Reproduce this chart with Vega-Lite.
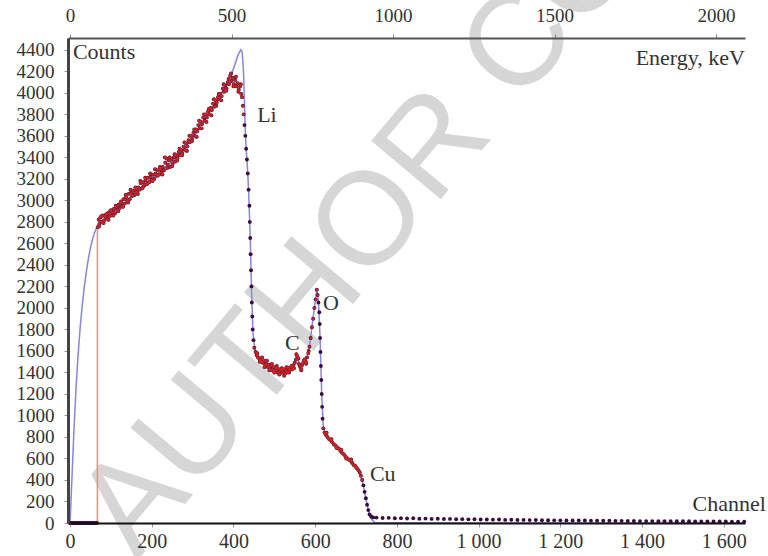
{
  "$schema": "https://vega.github.io/schema/vega-lite/v6.json",
  "width": 677,
  "height": 485,
  "autosize": {"type": "none"},
  "padding": {"left": 68, "top": 38, "right": 23, "bottom": 33},
  "background": "white",
  "config": {"view": {"stroke": null}, "font": "Liberation Serif"},
  "datasets": {
    "fit": [
      {"ch":0,"counts":0},{"ch":5,"counts":450},{"ch":10,"counts":900},{"ch":15,"counts":1280},{"ch":20,"counts":1580},{"ch":25,"counts":1830},{"ch":30,"counts":2030},{"ch":35,"counts":2200},{"ch":40,"counts":2340},{"ch":45,"counts":2460},{"ch":50,"counts":2560},{"ch":55,"counts":2640},{"ch":60,"counts":2700},{"ch":65,"counts":2745},{"ch":70,"counts":2775},{"ch":80,"counts":2820},{"ch":100,"counts":2880},{"ch":120,"counts":2940},{"ch":140,"counts":3000},{"ch":160,"counts":3080},{"ch":180,"counts":3145},{"ch":200,"counts":3205},{"ch":220,"counts":3265},{"ch":240,"counts":3330},{"ch":260,"counts":3395},{"ch":280,"counts":3480},{"ch":300,"counts":3585},{"ch":320,"counts":3695},{"ch":340,"counts":3810},{"ch":360,"counts":3935},{"ch":380,"counts":4060},{"ch":395,"counts":4170},{"ch":405,"counts":4280},{"ch":412,"counts":4360},{"ch":418,"counts":4400},{"ch":421,"counts":4380},{"ch":423,"counts":4300},{"ch":425,"counts":4150},{"ch":427,"counts":3900},{"ch":429,"counts":3640},{"ch":431,"counts":3480},{"ch":433,"counts":3380},{"ch":437,"counts":3100},{"ch":441,"counts":2650},{"ch":445,"counts":2050},{"ch":448,"counts":1760},{"ch":452,"counts":1620},{"ch":460,"counts":1545},{"ch":480,"counts":1480},{"ch":500,"counts":1435},{"ch":520,"counts":1410},{"ch":540,"counts":1430},{"ch":550,"counts":1490},{"ch":556,"counts":1540},{"ch":562,"counts":1470},{"ch":570,"counts":1480},{"ch":580,"counts":1540},{"ch":586,"counts":1640},{"ch":592,"counts":1820},{"ch":598,"counts":2000},{"ch":604,"counts":2175},{"ch":608,"counts":2060},{"ch":612,"counts":1720},{"ch":616,"counts":1200},{"ch":620,"counts":880},{"ch":630,"counts":800},{"ch":660,"counts":680},{"ch":690,"counts":560},{"ch":710,"counts":460},{"ch":718,"counts":350},{"ch":724,"counts":230},{"ch":730,"counts":120},{"ch":737,"counts":40},{"ch":745,"counts":5},{"ch":760,"counts":0},{"ch":1652,"counts":0}
    ],
    "measured": [
      {"ch":0,"counts":0},{"ch":3,"counts":0},{"ch":6,"counts":0},{"ch":9,"counts":0},{"ch":12,"counts":0},{"ch":15,"counts":0},{"ch":18,"counts":0},{"ch":21,"counts":0},{"ch":24,"counts":0},{"ch":27,"counts":0},{"ch":30,"counts":0},{"ch":33,"counts":0},{"ch":36,"counts":0},{"ch":39,"counts":0},{"ch":42,"counts":0},{"ch":45,"counts":0},{"ch":48,"counts":0},{"ch":51,"counts":0},{"ch":54,"counts":0},{"ch":57,"counts":0},{"ch":60,"counts":0},{"ch":63,"counts":0},{"ch":66,"counts":0},
      {"ch":68,"counts":2750},{"ch":70,"counts":2820},{"ch":72,"counts":2780},{"ch":74,"counts":2840},{"ch":77,"counts":2800},{"ch":80,"counts":2860},{"ch":83,"counts":2810},{"ch":86,"counts":2850},{"ch":89,"counts":2830},{"ch":92,"counts":2880},{"ch":95,"counts":2850},{"ch":98,"counts":2900},{"ch":101,"counts":2860},{"ch":104,"counts":2890},{"ch":107,"counts":2920},{"ch":110,"counts":2880},{"ch":113,"counts":2940},{"ch":116,"counts":2910},{"ch":119,"counts":2960},{"ch":122,"counts":2930},{"ch":125,"counts":2990},{"ch":128,"counts":2950},{"ch":131,"counts":3010},{"ch":134,"counts":2970},{"ch":137,"counts":3030},{"ch":140,"counts":3000},{"ch":143,"counts":3060},{"ch":146,"counts":3010},{"ch":149,"counts":3070},{"ch":152,"counts":3040},{"ch":155,"counts":3090},{"ch":158,"counts":3050},{"ch":161,"counts":3110},{"ch":164,"counts":3080},{"ch":167,"counts":3120},{"ch":170,"counts":3100},{"ch":173,"counts":3160},{"ch":176,"counts":3110},{"ch":179,"counts":3170},{"ch":182,"counts":3140},{"ch":185,"counts":3190},{"ch":188,"counts":3150},{"ch":191,"counts":3210},{"ch":194,"counts":3170},{"ch":197,"counts":3220},{"ch":200,"counts":3190},{"ch":203,"counts":3240},{"ch":206,"counts":3200},{"ch":209,"counts":3250},{"ch":212,"counts":3230},{"ch":215,"counts":3280},{"ch":218,"counts":3240},{"ch":221,"counts":3290},{"ch":224,"counts":3260},{"ch":227,"counts":3310},{"ch":230,"counts":3280},{"ch":233,"counts":3350},{"ch":236,"counts":3390},{"ch":239,"counts":3330},{"ch":242,"counts":3370},{"ch":245,"counts":3310},{"ch":248,"counts":3380},{"ch":251,"counts":3340},{"ch":254,"counts":3400},{"ch":257,"counts":3360},{"ch":260,"counts":3420},{"ch":263,"counts":3390},{"ch":266,"counts":3450},{"ch":269,"counts":3420},{"ch":272,"counts":3470},{"ch":275,"counts":3440},{"ch":278,"counts":3500},{"ch":281,"counts":3470},{"ch":284,"counts":3530},{"ch":287,"counts":3500},{"ch":290,"counts":3560},{"ch":293,"counts":3540},{"ch":296,"counts":3600},{"ch":299,"counts":3570},{"ch":302,"counts":3630},{"ch":305,"counts":3600},{"ch":308,"counts":3660},{"ch":311,"counts":3640},{"ch":314,"counts":3700},{"ch":317,"counts":3670},{"ch":320,"counts":3730},{"ch":323,"counts":3710},{"ch":326,"counts":3770},{"ch":329,"counts":3740},{"ch":332,"counts":3800},{"ch":335,"counts":3770},{"ch":338,"counts":3830},{"ch":341,"counts":3800},{"ch":344,"counts":3860},{"ch":347,"counts":3840},{"ch":350,"counts":3900},{"ch":353,"counts":3870},{"ch":356,"counts":3930},{"ch":359,"counts":3910},{"ch":362,"counts":3960},{"ch":365,"counts":3940},{"ch":368,"counts":3990},{"ch":371,"counts":3970},{"ch":374,"counts":4040},{"ch":377,"counts":4010},{"ch":380,"counts":4070},{"ch":383,"counts":4040},{"ch":386,"counts":4100},{"ch":389,"counts":4080},{"ch":392,"counts":4160},{"ch":395,"counts":4110},{"ch":398,"counts":4140},{"ch":401,"counts":4080},{"ch":404,"counts":4120},{"ch":407,"counts":4060},{"ch":410,"counts":4090},{"ch":413,"counts":4030},{"ch":416,"counts":4060},{"ch":419,"counts":3990},{"ch":421,"counts":3960},{"ch":423,"counts":3880},{"ch":425,"counts":3800},{"ch":427,"counts":3700},{"ch":429,"counts":3600},{"ch":431,"counts":3480},{"ch":433,"counts":3380},{"ch":435,"counts":3250},{"ch":437,"counts":3100},{"ch":439,"counts":2950},{"ch":440,"counts":2800},{"ch":441,"counts":2650},{"ch":442,"counts":2500},{"ch":443,"counts":2350},{"ch":444,"counts":2200},{"ch":445,"counts":2050},{"ch":446,"counts":1920},{"ch":447,"counts":1800},{"ch":449,"counts":1700},{"ch":451,"counts":1630},{"ch":454,"counts":1590},{"ch":457,"counts":1560},{"ch":460,"counts":1540},{"ch":463,"counts":1530},{"ch":466,"counts":1510},{"ch":469,"counts":1500},{"ch":472,"counts":1490},{"ch":475,"counts":1510},{"ch":478,"counts":1470},{"ch":481,"counts":1480},{"ch":484,"counts":1450},{"ch":487,"counts":1470},{"ch":490,"counts":1430},{"ch":493,"counts":1460},{"ch":496,"counts":1420},{"ch":499,"counts":1450},{"ch":502,"counts":1410},{"ch":505,"counts":1440},{"ch":508,"counts":1400},{"ch":511,"counts":1430},{"ch":514,"counts":1390},{"ch":517,"counts":1420},{"ch":520,"counts":1400},{"ch":523,"counts":1430},{"ch":526,"counts":1390},{"ch":529,"counts":1420},{"ch":532,"counts":1400},{"ch":535,"counts":1440},{"ch":538,"counts":1420},{"ch":541,"counts":1450},{"ch":544,"counts":1430},{"ch":547,"counts":1470},{"ch":550,"counts":1490},{"ch":553,"counts":1520},{"ch":556,"counts":1550},{"ch":559,"counts":1530},{"ch":562,"counts":1460},{"ch":565,"counts":1440},{"ch":568,"counts":1470},{"ch":571,"counts":1490},{"ch":574,"counts":1520},{"ch":577,"counts":1500},{"ch":580,"counts":1540},{"ch":583,"counts":1580},{"ch":586,"counts":1640},{"ch":589,"counts":1720},{"ch":592,"counts":1820},{"ch":595,"counts":1900},{"ch":598,"counts":2000},{"ch":601,"counts":2080},{"ch":604,"counts":2170},{"ch":606,"counts":2120},{"ch":608,"counts":2050},{"ch":610,"counts":1960},{"ch":611,"counts":1850},{"ch":612,"counts":1720},{"ch":613,"counts":1590},{"ch":614,"counts":1460},{"ch":615,"counts":1330},{"ch":616,"counts":1200},{"ch":617,"counts":1080},{"ch":618,"counts":970},{"ch":620,"counts":880},{"ch":623,"counts":840},{"ch":626,"counts":820},{"ch":630,"counts":800},{"ch":634,"counts":780},{"ch":638,"counts":770},{"ch":642,"counts":750},{"ch":646,"counts":730},{"ch":650,"counts":720},{"ch":654,"counts":700},{"ch":658,"counts":690},{"ch":662,"counts":670},{"ch":666,"counts":650},{"ch":670,"counts":640},{"ch":674,"counts":620},{"ch":678,"counts":600},{"ch":682,"counts":590},{"ch":686,"counts":580},{"ch":690,"counts":560},{"ch":694,"counts":540},{"ch":698,"counts":530},{"ch":702,"counts":510},{"ch":706,"counts":490},{"ch":709,"counts":470},{"ch":712,"counts":440},{"ch":715,"counts":400},{"ch":718,"counts":350},{"ch":721,"counts":290},{"ch":724,"counts":230},{"ch":727,"counts":170},{"ch":730,"counts":120},{"ch":733,"counts":80},{"ch":737,"counts":60},{"ch":742,"counts":52},
      {"ch":71,"counts":2760},{"ch":76,"counts":2850},{"ch":82,"counts":2790},{"ch":88,"counts":2870},{"ch":94,"counts":2820},{"ch":100,"counts":2910},{"ch":106,"counts":2860},{"ch":112,"counts":2950},{"ch":118,"counts":2900},{"ch":124,"counts":2980},{"ch":130,"counts":2940},{"ch":136,"counts":3050},{"ch":142,"counts":2980},{"ch":148,"counts":3100},{"ch":154,"counts":3050},{"ch":160,"counts":3120},{"ch":166,"counts":3060},{"ch":172,"counts":3180},{"ch":178,"counts":3120},{"ch":184,"counts":3210},{"ch":190,"counts":3160},{"ch":196,"counts":3250},{"ch":202,"counts":3180},{"ch":208,"counts":3290},{"ch":214,"counts":3230},{"ch":220,"counts":3310},{"ch":226,"counts":3240},{"ch":232,"counts":3400},{"ch":238,"counts":3300},{"ch":244,"counts":3400},{"ch":250,"counts":3320},{"ch":256,"counts":3430},{"ch":262,"counts":3370},{"ch":268,"counts":3480},{"ch":274,"counts":3420},{"ch":280,"counts":3540},{"ch":286,"counts":3460},{"ch":292,"counts":3600},{"ch":298,"counts":3550},{"ch":304,"counts":3660},{"ch":310,"counts":3590},{"ch":316,"counts":3740},{"ch":322,"counts":3670},{"ch":328,"counts":3800},{"ch":334,"counts":3730},{"ch":340,"counts":3850},{"ch":346,"counts":3790},{"ch":352,"counts":3940},{"ch":358,"counts":3880},{"ch":364,"counts":3990},{"ch":370,"counts":3930},{"ch":376,"counts":4080},{"ch":382,"counts":4020},{"ch":388,"counts":4130},{"ch":394,"counts":4180},{"ch":400,"counts":4060},{"ch":406,"counts":4150},{"ch":412,"counts":4010},{"ch":418,"counts":4080},
      {"ch":458,"counts":1580},{"ch":464,"counts":1500},{"ch":470,"counts":1540},{"ch":476,"counts":1450},{"ch":482,"counts":1510},{"ch":488,"counts":1420},{"ch":494,"counts":1480},{"ch":500,"counts":1400},{"ch":506,"counts":1460},{"ch":512,"counts":1380},{"ch":518,"counts":1440},{"ch":524,"counts":1370},{"ch":530,"counts":1450},{"ch":536,"counts":1400},{"ch":542,"counts":1460},{"ch":548,"counts":1440},{"ch":554,"counts":1570},{"ch":560,"counts":1480},{"ch":566,"counts":1420},{"ch":572,"counts":1510},{"ch":578,"counts":1480},{"ch":584,"counts":1600},
      {"ch":628,"counts":840},{"ch":640,"counts":780},{"ch":652,"counts":700},{"ch":664,"counts":680},{"ch":676,"counts":600},{"ch":688,"counts":590},{"ch":700,"counts":520},
      {"ch":750,"counts":50},{"ch":765,"counts":46},{"ch":780,"counts":48},{"ch":795,"counts":44},{"ch":810,"counts":45},{"ch":825,"counts":42},{"ch":840,"counts":44},{"ch":855,"counts":40},{"ch":870,"counts":41},{"ch":885,"counts":38},{"ch":900,"counts":40},{"ch":915,"counts":37},{"ch":930,"counts":38},{"ch":945,"counts":35},{"ch":960,"counts":36},{"ch":975,"counts":34},{"ch":990,"counts":35},{"ch":1005,"counts":32},{"ch":1020,"counts":33},{"ch":1035,"counts":31},{"ch":1050,"counts":32},{"ch":1065,"counts":29},{"ch":1080,"counts":30},{"ch":1095,"counts":28},{"ch":1110,"counts":29},{"ch":1125,"counts":27},{"ch":1140,"counts":28},{"ch":1155,"counts":26},{"ch":1170,"counts":26},{"ch":1185,"counts":25},{"ch":1200,"counts":25},{"ch":1215,"counts":24},{"ch":1230,"counts":24},{"ch":1245,"counts":23},{"ch":1260,"counts":23},{"ch":1275,"counts":22},{"ch":1290,"counts":22},{"ch":1305,"counts":21},{"ch":1320,"counts":21},{"ch":1335,"counts":20},{"ch":1350,"counts":20},{"ch":1365,"counts":19},{"ch":1380,"counts":19},{"ch":1395,"counts":18},{"ch":1410,"counts":18},{"ch":1425,"counts":18},{"ch":1440,"counts":17},{"ch":1455,"counts":17},{"ch":1470,"counts":17},{"ch":1485,"counts":16},{"ch":1500,"counts":16},{"ch":1515,"counts":16},{"ch":1530,"counts":15},{"ch":1545,"counts":15},{"ch":1560,"counts":15},{"ch":1575,"counts":14},{"ch":1590,"counts":14},{"ch":1605,"counts":14},{"ch":1620,"counts":13},{"ch":1635,"counts":13},{"ch":1650,"counts":13}
    ],
    "cutoff": [{"ch": 67, "counts": 0, "top": 2730}],
    "labelsLeft": [
      {"ch": 7, "counts": 4380, "label": "Counts"},
      {"ch": 458, "counts": 3794, "label": "Li"},
      {"ch": 619, "counts": 2046, "label": "O"},
      {"ch": 526, "counts": 1674, "label": "C"},
      {"ch": 734, "counts": 456, "label": "Cu"}
    ],
    "labelsRight": [
      {"ch": 1652, "counts": 4324, "label": "Energy, keV"},
      {"ch": 1703, "counts": 177, "label": "Channel"}
    ],
    "watermark": [{"ch": 850, "counts": 3330, "label": "AUTHOR COPY"}]
  },
  "layer": [
    {
      "data": {"name": "watermark"},
      "mark": {"type": "text", "font": "Liberation Sans", "fontSize": 132, "color": "#d6d6d6", "angle": -50, "align": "center", "baseline": "middle"},
      "encoding": {
        "x": {"field": "ch", "type": "quantitative", "scale": {"domain": [-5, 1652], "nice": false, "zero": false}, "axis": null},
        "y": {"field": "counts", "type": "quantitative", "scale": {"domain": [0, 4510], "nice": false}, "axis": null},
        "text": {"field": "label"}
      }
    },
    {
      "data": {"name": "cutoff"},
      "mark": {"type": "rule", "color": "#f08c8c", "strokeWidth": 1.6},
      "encoding": {
        "x": {"field": "ch", "type": "quantitative", "scale": {"domain": [-5, 1652], "nice": false, "zero": false}, "axis": null},
        "y": {"field": "counts", "type": "quantitative", "scale": {"domain": [0, 4510], "nice": false}, "axis": null},
        "y2": {"field": "top"}
      }
    },
    {
      "data": {"name": "fit"},
      "mark": {"type": "line", "color": "#8585e6", "strokeWidth": 1.5},
      "encoding": {
        "x": {"field": "ch", "type": "quantitative", "scale": {"domain": [-5, 1652], "nice": false, "zero": false},
          "axis": {"orient": "top", "title": null, "grid": false, "zindex": 1, "values": [0, 395.26, 790.51, 1185.77, 1581.03],
            "labelExpr": "format(round(datum.value * 1.265 / 100) * 100, 'd')",
            "labelFont": "Liberation Serif", "labelFontSize": 19, "labelColor": "#333", "labelPadding": 9,
            "domainColor": "#555", "domainWidth": 2, "tickColor": "#888", "tickSize": 4}},
        "y": {"field": "counts", "type": "quantitative", "scale": {"domain": [0, 4510], "nice": false},
          "axis": {"orient": "left", "title": null, "grid": false, "zindex": 1, "format": "d", "values": [0,200,400,600,800,1000,1200,1400,1600,1800,2000,2200,2400,2600,2800,3000,3200,3400,3600,3800,4000,4200,4400],
            "labelFont": "Liberation Serif", "labelFontSize": 19, "labelColor": "#333", "labelPadding": 10,
            "domainColor": "#444", "domainWidth": 3, "tickColor": "#999", "tickSize": 4}}
      }
    },
    {
      "data": {"name": "measured"},
      "mark": {"type": "point", "filled": true, "color": "#3a0c3c", "size": 15, "opacity": 1},
      "encoding": {
        "x": {"field": "ch", "type": "quantitative", "scale": {"domain": [-5, 1652], "nice": false, "zero": false},
          "axis": {"orient": "bottom", "title": null, "grid": false, "zindex": 1, "values": [0,200,400,600,800,1000,1200,1400,1600],
            "labelExpr": "replace(format(datum.value, ','), ',', ' ')",
            "labelFont": "Liberation Serif", "labelFontSize": 20, "labelColor": "#333", "labelPadding": 4,
            "domainColor": "#111", "domainWidth": 2, "tickColor": "#999", "tickSize": 4}},
        "y": {"field": "counts", "type": "quantitative", "scale": {"domain": [0, 4510], "nice": false}, "axis": null}
      }
    },
    {
      "data": {"name": "measured"},
      "transform": [{"filter": "(datum.ch >= 67 && datum.ch <= 426) || (datum.ch >= 450 && datum.ch <= 606) || (datum.ch >= 620 && datum.ch <= 716)"}],
      "mark": {"type": "point", "filled": true, "color": "#e0261c", "size": 9, "opacity": 0.85},
      "encoding": {
        "x": {"field": "ch", "type": "quantitative", "scale": {"domain": [-5, 1652], "nice": false, "zero": false}, "axis": null},
        "y": {"field": "counts", "type": "quantitative", "scale": {"domain": [0, 4510], "nice": false}, "axis": null}
      }
    },
    {
      "data": {"name": "labelsLeft"},
      "mark": {"type": "text", "font": "Liberation Serif", "fontSize": 22, "color": "#333", "align": "left", "baseline": "middle"},
      "encoding": {
        "x": {"field": "ch", "type": "quantitative", "scale": {"domain": [-5, 1652], "nice": false, "zero": false}, "axis": null},
        "y": {"field": "counts", "type": "quantitative", "scale": {"domain": [0, 4510], "nice": false}, "axis": null},
        "text": {"field": "label"}
      }
    },
    {
      "data": {"name": "labelsRight"},
      "mark": {"type": "text", "font": "Liberation Serif", "fontSize": 22, "color": "#333", "align": "right", "baseline": "middle"},
      "encoding": {
        "x": {"field": "ch", "type": "quantitative", "scale": {"domain": [-5, 1652], "nice": false, "zero": false}, "axis": null},
        "y": {"field": "counts", "type": "quantitative", "scale": {"domain": [0, 4510], "nice": false}, "axis": null},
        "text": {"field": "label"}
      }
    }
  ],
  "resolve": {"axis": {"x": "independent", "y": "independent"}}
}
